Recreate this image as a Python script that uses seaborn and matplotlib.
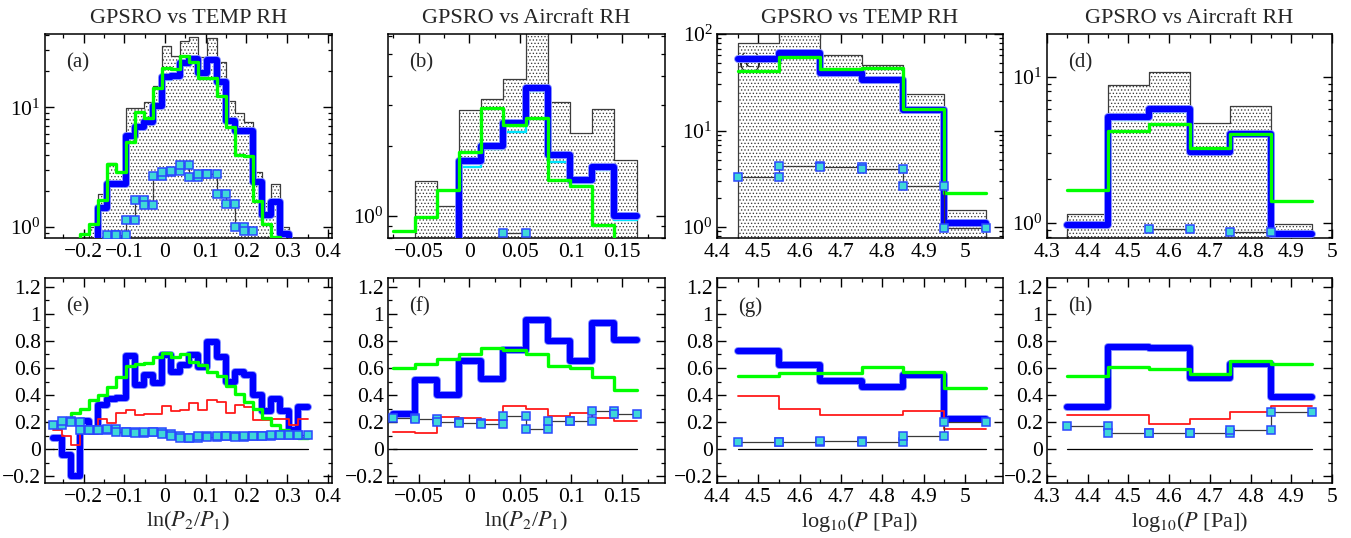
import numpy as np
import pandas as pd
import matplotlib
matplotlib.use("Agg")
import matplotlib.pyplot as plt
import matplotlib.patheffects as pe
from matplotlib.ticker import (MultipleLocator, FuncFormatter, LogLocator,
                               NullFormatter, LogFormatterSciNotation)
import seaborn as sns

# ---------------------------------------------------------------- data ----
# bin edges: ln(P2/P1) for TEMP, ln(P2/P1) for Aircraft, log10(P) grids
edges_ln_temp = [-0.2760, -0.2536, -0.2313, -0.2089, -0.1866, -0.1642, -0.1418,
                 -0.1195, -0.0971, -0.0748, -0.0524, -0.0300, -0.0077, 0.0147,
                 0.0370, 0.0594, 0.0818, 0.1041, 0.1265, 0.1488, 0.1712, 0.1936,
                 0.2159, 0.2383, 0.2606, 0.2830, 0.3054, 0.3277, 0.3501]
edges_ln_air = [-0.0755, -0.0537, -0.0320, -0.0102, 0.0116, 0.0334, 0.0552,
                0.0770, 0.0988, 0.1206, 0.1424, 0.1642]
edges_p_temp = [4.45, 4.55, 4.65, 4.75, 4.85, 4.95, 5.05]
edges_p_air = [4.35, 4.45, 4.55, 4.65, 4.75, 4.85, 4.95]

# (a) counts vs ln(P2/P1), TEMP
count_a = [0, 0, 0, 0, 1.0, 1.9, 3.4, 2.9, 9.9, 9.9, 11.0, 15.0, 32.7, 27.0,
           36.0, 38.5, 26.5, 38.3, 23.7, 11.4, 9.0, 7.5, 2.9, 1.6, 2.3, 1.0, 0, 0]
blue_a = [0, 0, 0, 0, 0, 1.45, 2.27, 2.27, 5.8, 6.8, 7.5, 10.3, 17.8, 18.2,
          23.5, 25.3, 19.5, 24.8, 16.2, 7.7, 6.4, 6.4, 2.37, 1.25, 1.62, 0.87, 0, 0]
cyan_a = [0, 0, 0, 0, 0, 1.4, 2.2, 2.2, 5.6, 6.6, 7.3, 10.0, 16.8, 17.5,
          23.0, 24.8, 19.0, 24.2, 15.5, 7.5, 6.1, 6.1, 2.3, 1.2, 1.55, 0.85, 0, 0]
green_a = [0, 0, 0, 0.87, 1.07, 1.67, 3.38, 2.87, 5.1, 9.1, 8.2, 14.5, 21.3, 20.9,
           27.0, 24.0, 17.6, 17.6, 12.5, 6.9, 4.0, 3.9, 1.65, 1.07, 0.83, 0, 0, 0]
sq_a = [np.nan] * 6 + [0.86, 0.86, 1.14, 1.68, 1.52, 2.68, 2.9, 2.95, 3.3, 2.6,
                       2.8, 2.8, 1.9, 1.55, 1.0, 0.92] + [np.nan] * 6

# (b) counts vs ln(P2/P1), Aircraft
count_b = [0, 1.41, 1.1, 2.86, 3.18, 3.88, 6.5, 3.11, 2.27, 2.88, 1.74]
blue_b = [0, 0, 0, 1.73, 1.99, 2.51, 3.55, 1.83, 1.43, 1.63, 1.0]
cyan_b = [0, 0, 0, 1.63, 1.95, 2.31, 3.45, 1.71, 1.38, 1.58, 0.96]
green_b = [0.856, 0.99, 1.29, 1.89, 2.91, 2.47, 2.64, 1.43, 1.34, 0.915, 0]
sq_b = [np.nan] * 5 + [0.84] + [np.nan] * 5

# (c) counts vs log10(P), TEMP
count_c = [80, 110, 60.8, 48.3, 23.7, 1.51]
blue_c = [55.2, 63, 39.3, 33, 16.2, 1.1]
cyan_c = [54, 60, 38, 32, 15.8, 1.07]
green_c = [40.9, 57.4, 43.5, 44.4, 16.9, 2.24]
sq_c = [3.32, 4.31, 4.22, 3.99, 2.69, 0.98]

# (d) counts vs log10(P), Aircraft
count_d = [1.15, 8.77, 10.8, 4.84, 6.3, 0.98]
blue_d = [0.965, 5.32, 6.08, 3.06, 4.1, 0.846]
cyan_d = [0.95, 5.1, 5.8, 3.0, 4.0, 0.84]
green_d = [1.69, 4.25, 4.8, 3.26, 4.1, 1.41]
sq_d = [np.nan, np.nan, 0.915, np.nan, 0.87, np.nan]

# (e) correlation vs ln(P2/P1), TEMP
blue_e = [0.081, -0.04, -0.2, 0.21, 0.14, 0.33, 0.37, 0.38, 0.69, 0.474, 0.548,
          0.486, 0.696, 0.573, 0.622, 0.696, 0.61, 0.795, 0.684, 0.5, 0.573,
          0.548, 0.4, 0.28, 0.37, 0.28, 0.14, 0.31]
green_e = [0.18, 0.22, 0.267, 0.296, 0.36, 0.40, 0.462, 0.53, 0.614, 0.63, 0.64,
           0.68, 0.708, 0.684, 0.70, 0.647, 0.62, 0.573, 0.54, 0.47, 0.41, 0.35,
           0.3, 0.23, 0.18, 0.14, 0.106, 0.08]
red_e = [0.143, 0.1, 0.032, 0.12, 0.11, 0.22, 0.19, 0.27, 0.286, 0.254, 0.26,
         0.26, 0.316, 0.28, 0.29, 0.343, 0.29, 0.362, 0.35, 0.27, 0.326, 0.31,
         0.217, 0.217, 0.22, 0.22, 0.18, 0.225]
sq_e = [0.18, 0.21, 0.2, 0.14, 0.14, 0.14, 0.15, 0.13, 0.125, 0.12, 0.125, 0.13,
        0.11, 0.095, 0.085, 0.085, 0.095, 0.09, 0.095, 0.095, 0.09, 0.1, 0.1,
        0.1, 0.105, 0.105, 0.105, 0.105]

# (f) correlation vs ln(P2/P1), Aircraft
blue_f = [0.26, 0.51, 0.4, 0.65, 0.52, 0.73, 0.955, 0.8, 0.65, 0.935, 0.81]
green_f = [0.6, 0.63, 0.67, 0.7, 0.745, 0.73, 0.7, 0.615, 0.6, 0.53, 0.437]
red_f = [0.128, 0.12, 0.235, 0.23, 0.215, 0.32, 0.3, 0.247, 0.264, 0.232, 0.21]
sq_f = [0.227, 0.222, 0.2, 0.19, 0.183, 0.247, 0.146, 0.21, 0.21, 0.284, 0.257]

# (g) correlation vs log10(P), TEMP
blue_g = [0.728, 0.622, 0.506, 0.457, 0.548, 0.22]
green_g = [0.54, 0.56, 0.56, 0.605, 0.573, 0.449]
red_g = [0.393, 0.30, 0.252, 0.252, 0.284, 0.146]
sq_g = [0.054, 0.05, 0.062, 0.055, 0.095, 0.2]

# (h) correlation vs log10(P), Aircraft
blue_h = [0.314, 0.753, 0.746, 0.523, 0.63, 0.383]
green_h = [0.54, 0.605, 0.59, 0.556, 0.654, 0.627]
red_h = [0.252, 0.252, 0.185, 0.22, 0.272, 0.321]
sq_h = [0.17, 0.121, 0.12, 0.116, 0.141, 0.277]

titles = ["GPSRO vs TEMP RH", "GPSRO vs Aircraft RH",
          "GPSRO vs TEMP RH", "GPSRO vs Aircraft RH"]
panel_tags = ["(a)", "(b)", "(c)", "(d)", "(e)", "(f)", "(g)", "(h)"]
xlabel_ln = r"ln($P_2$/$P_1$)"
xlabel_p = r"log$_{10}$($P$ [Pa])"

# ---------------------------------------------------------------- style ---
sns.set_theme(style="ticks")
plt.rcParams.update({
    "font.family": ["Liberation Serif", "DejaVu Serif"],
    "mathtext.fontset": "stix",
    "axes.linewidth": 1.1,
    "axes.edgecolor": "black",
    "axes.facecolor": "white",
    "xtick.direction": "in", "ytick.direction": "in",
    "xtick.top": True, "ytick.right": True,
    "xtick.major.size": 6.5, "ytick.major.size": 6.5,
    "xtick.minor.size": 3.2, "ytick.minor.size": 3.2,
    "xtick.major.width": 1.0, "ytick.major.width": 1.0,
    "xtick.minor.width": 0.9, "ytick.minor.width": 0.9,
    "xtick.color": "black", "ytick.color": "black",
    "xtick.labelsize": 15.5, "ytick.labelsize": 15.5,
    "xtick.major.pad": 3.5, "ytick.major.pad": 3,
    "hatch.linewidth": 0.55,
    "hatch.color": "black",
})

BLUE = "#0000ff"
CYAN = "#00e5ff"
GREEN = "#00ff00"
RED = "#ff1a1a"
SQ_FACE = "#3fd8d8"
SQ_EDGE = "#2a48ff"


def num_fmt(v, pos):
    v = round(v, 6)
    if abs(v) < 1e-9:
        v = 0.0
    return f"{v:g}".replace("-", "\u2212")


def step_line(ax, edges, vals, color, lw, z, halo=None):
    y = np.append(np.asarray(vals, float), vals[-1])
    extra = {}
    if halo is not None:
        extra["path_effects"] = [pe.Stroke(linewidth=lw + 1.3, foreground=halo),
                                 pe.Normal()]
    sns.lineplot(x=np.asarray(edges, float), y=y, drawstyle="steps-post",
                 estimator=None, sort=False, color=color, linewidth=lw,
                 ax=ax, zorder=z, **extra)


def square_steps(ax, edges, vals):
    vals = np.asarray(vals, float)
    runs, xs, ys = [], [], []
    for i, v in enumerate(vals):
        if np.isnan(v):
            if xs:
                runs.append((xs, ys))
                xs, ys = [], []
            continue
        xs += [edges[i], edges[i + 1]]
        ys += [v, v]
    if xs:
        runs.append((xs, ys))
    for rx, ry in runs:
        sns.lineplot(x=rx, y=ry, estimator=None, sort=False, color="#3a3a3a",
                     linewidth=0.9, marker="s", markersize=6.3,
                     markerfacecolor=SQ_FACE, markeredgecolor=SQ_EDGE,
                     markeredgewidth=1.1, ax=ax, zorder=7)


def count_hist(ax, edges, vals):
    e = [float(v) for v in edges]
    frame = pd.DataFrame({"x": [0.5 * (e[i] + e[i + 1]) for i in range(len(e) - 1)],
                          "w": [float(v) for v in vals]})
    sns.histplot(data=frame, x="x", weights="w", bins=e, element="step",
                 fill=True, color="white", edgecolor="#3c3c3c", linewidth=0.9,
                 alpha=1, hatch=".....", ax=ax, zorder=1)


def finish(ax, xlim, ylim, xmaj, xmin, log, tag, title=None, xlabel=None):
    ax.set_xlim(*xlim)
    if log:
        ax.set_yscale("log")
        ax.yaxis.set_major_locator(LogLocator(base=10))
        ax.yaxis.set_minor_locator(LogLocator(base=10, subs=np.arange(2, 10)))
        ax.yaxis.set_major_formatter(LogFormatterSciNotation())
        ax.yaxis.set_minor_formatter(NullFormatter())
    else:
        ax.yaxis.set_major_locator(MultipleLocator(0.2))
        ax.yaxis.set_minor_locator(MultipleLocator(0.1))
        ax.yaxis.set_major_formatter(FuncFormatter(num_fmt))
    ax.set_ylim(*ylim)
    ax.xaxis.set_major_locator(MultipleLocator(xmaj))
    ax.xaxis.set_minor_locator(MultipleLocator(xmin))
    ax.xaxis.set_major_formatter(FuncFormatter(num_fmt))
    ax.tick_params(which="both", top=True, right=True, direction="in")
    ax.set_ylabel("")
    ax.set_xlabel(xlabel if xlabel else "", fontsize=16, labelpad=2)
    if title:
        ax.set_title(title, fontsize=16, pad=8)
    ax.text(0.075, 0.86, tag, transform=ax.transAxes, fontsize=15,
            va="center", ha="left", zorder=2.5)
    for s in ax.spines.values():
        s.set_visible(True)
        s.set_color("black")
        s.set_linewidth(1.1)


# ---------------------------------------------------------------- figure --
fig = plt.figure(figsize=(13.51, 5.38), dpi=100)
lefts = [0.0333, 0.2872, 0.5307, 0.7750]
widths = [0.2124, 0.2050, 0.2117, 0.2110]
top_b, top_h = 0.5576, 0.3792
bot_b, bot_h = 0.1022, 0.3810
axes_top = [fig.add_axes([l, top_b, w, top_h]) for l, w in zip(lefts, widths)]
axes_bot = [fig.add_axes([l, bot_b, w, bot_h]) for l, w in zip(lefts, widths)]

top_sets = [
    (edges_ln_temp, count_a, cyan_a, blue_a, green_a, sq_a),
    (edges_ln_air, count_b, cyan_b, blue_b, green_b, sq_b),
    (edges_p_temp, count_c, cyan_c, blue_c, green_c, sq_c),
    (edges_p_air, count_d, cyan_d, blue_d, green_d, sq_d),
]
bot_sets = [
    (edges_ln_temp, blue_e, green_e, red_e, sq_e),
    (edges_ln_air, blue_f, green_f, red_f, sq_f),
    (edges_p_temp, blue_g, green_g, red_g, sq_g),
    (edges_p_air, blue_h, green_h, red_h, sq_h),
]
xlims = [(-0.295, 0.41), (-0.08, 0.192), (4.4, 5.092), (4.3, 5.0)]
top_ylims = [(0.81, 41), (0.80, 6.1), (0.77, 100), (0.79, 19.7)]
xticks = [(0.1, 0.05), (0.05, 0.025), (0.1, 0.05), (0.1, 0.05)]
xlabels = [xlabel_ln, xlabel_ln, xlabel_p, xlabel_p]

for j, ax in enumerate(axes_top):
    edges, cnt, cy, bl, gr, sq = top_sets[j]
    count_hist(ax, edges, cnt)
    step_line(ax, edges, cy, CYAN, 1.7, 3)
    step_line(ax, edges, bl, BLUE, 4.4, 4, halo="#8a96ff")
    step_line(ax, edges, gr, GREEN, 2.4, 5)
    square_steps(ax, edges, sq)
    finish(ax, xlims[j], top_ylims[j], *xticks[j], log=True,
           tag=panel_tags[j], title=titles[j])

for j, ax in enumerate(axes_bot):
    edges, bl, gr, rd, sq = bot_sets[j]
    sns.lineplot(x=[edges[0], edges[-1]], y=[0.0, 0.0], color="black",
                 linewidth=0.9, ax=ax, zorder=2)
    step_line(ax, edges, bl, BLUE, 4.4, 4, halo="#8a96ff")
    step_line(ax, edges, rd, RED, 1.3, 4.5)
    step_line(ax, edges, gr, GREEN, 2.4, 5)
    square_steps(ax, edges, sq)
    finish(ax, xlims[j], (-0.25, 1.265), *xticks[j], log=False,
           tag=panel_tags[4 + j], xlabel=xlabels[j])

fig.savefig("out.png", dpi=100)
